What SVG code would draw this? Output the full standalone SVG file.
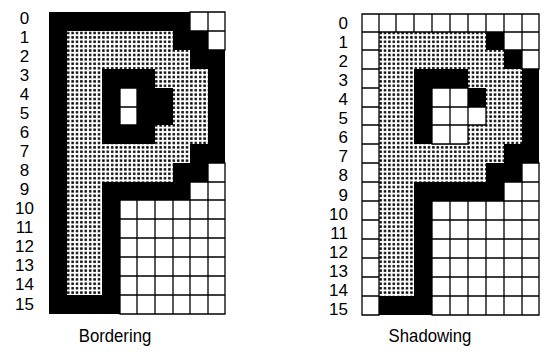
<svg xmlns="http://www.w3.org/2000/svg" width="542" height="352" viewBox="0 0 542 352">
<defs>
<pattern id="dots" width="4.4" height="4.4" patternUnits="userSpaceOnUse">
<rect width="4.4" height="4.4" fill="#fff"/>
<rect x="1" y="1" width="2.4" height="2.4" fill="#000"/>
</pattern>
</defs>
<style>
.dot{fill:url(#dots)}
.blk{fill:#000;fill-rule:evenodd}
.wht{fill:#fff}
.grid{fill:none;stroke:#000;stroke-width:1.3;stroke-linecap:square}
text{font-family:"Liberation Sans",Arial,sans-serif;font-size:17px;fill:#000}
.lab-l{text-anchor:middle}
.lab-r{text-anchor:end}
.cap{text-anchor:middle;font-size:18px}
</style>
<rect width="542" height="352" fill="#fff"/>

<g id="bordering">
<path class="dot" d="M67 31 H173 V50 H190 V69 H208 V144 H190 V163 H173 V182 H102 V295 H67 Z"/>
<path class="blk" d="M49 12 H190 V31 H208 V50 H225 V163 H208 V182 H190 V200 H120 V314 H49 Z M67 31 H173 V50 H190 V69 H208 V144 H190 V163 H173 V182 H102 V295 H67 Z M102 69 H155 V88 H173 V125 H155 V144 H102 Z M120 88 H137 V125 H120 Z"/>
<path class="wht" d="M120 88 H137 V125 H120 Z"/>
<path class="grid" d="M190 12 H225 V50 M190 12 V31 H225 M208 12 V50 H225 M120 88 H137 V125 H120 Z M120 107 H137 M208 163 H225 V314 M208 163 V200 M190 182 H225 M190 182 V200 M120 200 H225 M120 200 V314 H225 M137 200 V314 M155 200 V314 M173 200 V314 M190 200 V314 M208 200 V314 M120 219 H225 M120 238 H225 M120 257 H225 M120 276 H225 M120 295 H225"/>
<g class="lab-l">
<text x="24.5" y="24">0</text>
<text x="24.5" y="43">1</text>
<text x="24.5" y="62.1">2</text>
<text x="24.5" y="81.1">3</text>
<text x="24.5" y="100.1">4</text>
<text x="24.5" y="119.2">5</text>
<text x="24.5" y="138.2">6</text>
<text x="24.5" y="157.2">7</text>
<text x="24.5" y="176.2">8</text>
<text x="24.5" y="195.3">9</text>
<text x="24.5" y="214.3">10</text>
<text x="24.5" y="233.3">11</text>
<text x="24.5" y="252.4">12</text>
<text x="24.5" y="271.4">13</text>
<text x="24.5" y="290.4">14</text>
<text x="24.5" y="309.5">15</text>
</g>
<g transform="translate(115 0) scale(0.93 1)">
<text class="cap" x="0" y="342.5">Bordering</text>
</g>
</g>

<g id="shadowing">
<path class="dot" d="M379 32 H486 V50 H504 V69 H522 V144 H504 V163 H486 V182 H414 V296 H379 Z"/>
<path class="blk" d="M486 32 H504 V50 H522 V69 H539 V163 H522 V182 H504 V201 H432 V315 H379 V296 H414 V182 H486 V163 H504 V144 H522 V69 H504 V50 H486 Z"/>
<path class="blk" d="M414 69 H468 V88 H432 V144 H414 Z M468 88 H486 V107 H468 Z"/>
<path class="wht" d="M432 88 H468 V107 H486 V125 H468 V144 H432 Z"/>
<path class="grid" d="M362 14 V315 M379 14 V315 M362 14 H539 M362 32 H539 M362 50 H379 M362 69 H379 M362 88 H379 M362 107 H379 M362 125 H379 M362 144 H379 M362 163 H379 M362 182 H379 M362 201 H379 M362 220 H379 M362 239 H379 M362 258 H379 M362 277 H379 M362 296 H379 M362 315 H379 M396 14 V32 M414 14 V32 M432 14 V32 M450 14 V32 M468 14 V32 M486 14 V32 M504 14 V50 M522 14 V69 M539 14 V69 M504 50 H539 M522 69 H539 M522 163 H539 V315 M522 163 V315 M504 182 H539 M504 182 V315 M432 201 H539 M432 201 V315 M450 201 V315 M468 201 V315 M486 201 V315 M432 220 H539 M432 239 H539 M432 258 H539 M432 277 H539 M432 296 H539 M432 315 H539 M432 88 H468 M432 107 H486 M432 125 H486 M432 144 H468 M432 88 V144 M450 88 V144 M468 88 V144 M486 107 V125"/>
<g class="lab-r">
<text x="348" y="28.6">0</text>
<text x="348" y="47.7">1</text>
<text x="348" y="66.8">2</text>
<text x="348" y="85.9">3</text>
<text x="348" y="105">4</text>
<text x="348" y="124.1">5</text>
<text x="348" y="143.2">6</text>
<text x="348" y="162.3">7</text>
<text x="348" y="181.4">8</text>
<text x="348" y="200.5">9</text>
<text x="348" y="219.6">10</text>
<text x="348" y="238.7">11</text>
<text x="348" y="257.8">12</text>
<text x="348" y="276.9">13</text>
<text x="348" y="296">14</text>
<text x="348" y="315.1">15</text>
</g>
<g transform="translate(430 0) scale(0.93 1)">
<text class="cap" x="0" y="342.5">Shadowing</text>
</g>
</g>
</svg>
